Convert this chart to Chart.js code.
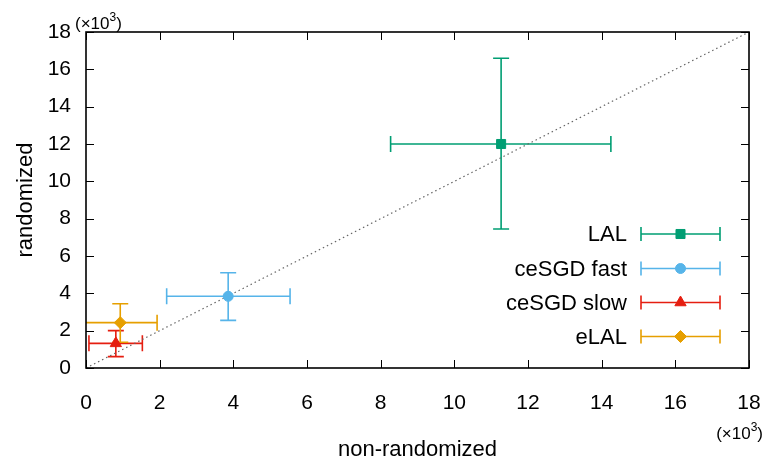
<!DOCTYPE html>
<html><head><meta charset="utf-8">
<script src="https://cdn.jsdelivr.net/npm/chart.js@4"></script>
<style>html,body{margin:0;padding:0;background:#fff}#wrap{width:766px;height:464px}</style>
</head><body><div id="wrap"><canvas id="c" width="766" height="464"></canvas></div>
<script>
// values in thousands (axis shows ×10^3)
const seriesNames = ['LAL', 'ceSGD fast', 'ceSGD slow', 'eLAL'];
const xVals  = [11.27, 3.86, 0.81, 0.93];
const yVals  = [12.00, 3.84, 1.32, 2.43];
const xLow   = [8.27, 2.19, 0.08, -0.05];
const xHigh  = [14.25, 5.54, 1.53, 1.93];
const yLow   = [7.45, 2.55, 0.61, 1.38];
const yHigh  = [16.59, 5.10, 2.00, 3.44];
const tickValues = [0, 2, 4, 6, 8, 10, 12, 14, 16, 18];
const diagonal = [{x: 0, y: 0}, {x: 18, y: 18}];

const colors = ['#009e73', '#56b4e9', '#e51e10', '#e69f00'];
const styles = ['rect', 'circle', 'triangle', 'rectRot'];
const radii = [6.4, 5, 6.5, 6];
const FONT = "'Liberation Sans', Arial, sans-serif";
const TICK_SIZE = 21, LABEL_SIZE = 22;

function drawMarker(ctx, style, r, x, y, color) {
  ctx.save();
  ctx.fillStyle = color; ctx.strokeStyle = color; ctx.lineWidth = 1;
  ctx.beginPath();
  if (style === 'rect') { const s = r * Math.SQRT1_2; ctx.rect(x - s, y - s, 2 * s, 2 * s); }
  else if (style === 'circle') { ctx.arc(x, y, r, 0, Math.PI * 2); }
  else if (style === 'triangle') {
    ctx.moveTo(x, y - r);
    ctx.lineTo(x + r * Math.sin(Math.PI * 2 / 3), y - r * Math.cos(Math.PI * 2 / 3));
    ctx.lineTo(x + r * Math.sin(Math.PI * 4 / 3), y - r * Math.cos(Math.PI * 4 / 3));
    ctx.closePath();
  } else { ctx.moveTo(x, y - r); ctx.lineTo(x + r, y); ctx.lineTo(x, y + r); ctx.lineTo(x - r, y); ctx.closePath(); }
  ctx.fill(); ctx.stroke();
  ctx.restore();
}

const errorBars = {
  id: 'errorBars',
  beforeDatasetsDraw(chart) {
    const {ctx, chartArea: a, scales: {x, y}} = chart;
    ctx.save();
    ctx.beginPath(); ctx.rect(a.left, a.top, a.right - a.left, a.bottom - a.top); ctx.clip();
    ctx.lineWidth = 1.6;
    const cap = 8;
    for (let i = 0; i < seriesNames.length; i++) {
      ctx.strokeStyle = colors[i];
      const px = x.getPixelForValue(xVals[i]), py = y.getPixelForValue(yVals[i]);
      const xl = x.getPixelForValue(xLow[i]), xh = x.getPixelForValue(xHigh[i]);
      const yl = y.getPixelForValue(yLow[i]), yh = y.getPixelForValue(yHigh[i]);
      ctx.beginPath();
      ctx.moveTo(xl, py); ctx.lineTo(xh, py);
      ctx.moveTo(xl, py - cap); ctx.lineTo(xl, py + cap);
      ctx.moveTo(xh, py - cap); ctx.lineTo(xh, py + cap);
      ctx.moveTo(px, yl); ctx.lineTo(px, yh);
      ctx.moveTo(px - cap, yl); ctx.lineTo(px + cap, yl);
      ctx.moveTo(px - cap, yh); ctx.lineTo(px + cap, yh);
      ctx.stroke();
    }
    ctx.restore();
  }
};

function drawTimes(ctx, xRight, yBase, alignRight, xLeft) {
  ctx.save();
  ctx.fillStyle = '#000';
  ctx.textBaseline = 'alphabetic'; ctx.textAlign = 'left';
  const a = '(×10', b = '3', c = ')';
  ctx.font = '17px ' + FONT; const wa = ctx.measureText(a).width, wc = ctx.measureText(c).width;
  ctx.font = '12px ' + FONT; const wb = ctx.measureText(b).width;
  const total = wa + wb + wc;
  let sx = alignRight ? xRight - total : xLeft;
  ctx.font = '17px ' + FONT; ctx.fillText(a, sx, yBase);
  ctx.font = '12px ' + FONT; ctx.fillText(b, sx + wa, yBase - 8);
  ctx.font = '17px ' + FONT; ctx.fillText(c, sx + wa + wb, yBase);
  ctx.restore();
}

const frame = {
  id: 'frame',
  afterDraw(chart) {
    const {ctx, chartArea: a, scales: {x, y}} = chart;
    ctx.save();
    ctx.strokeStyle = '#000'; ctx.lineWidth = 1;
    const tl = 8;
    ctx.beginPath();
    tickValues.forEach(v => {
      const px = Math.round(x.getPixelForValue(v)) + 0.5;
      ctx.moveTo(px, a.bottom); ctx.lineTo(px, a.bottom - tl);
      ctx.moveTo(px, a.top); ctx.lineTo(px, a.top + tl);
      const py = Math.round(y.getPixelForValue(v)) + 0.5;
      ctx.moveTo(a.left, py); ctx.lineTo(a.left + tl, py);
      ctx.moveTo(a.right, py); ctx.lineTo(a.right - tl, py);
    });
    ctx.stroke();
    ctx.lineWidth = 1.6;
    ctx.strokeRect(a.left, a.top, a.right - a.left, a.bottom - a.top);

    ctx.fillStyle = '#000';
    ctx.font = LABEL_SIZE + 'px ' + FONT;
    ctx.textAlign = 'center'; ctx.textBaseline = 'middle';
    ctx.fillText('non-randomized', (a.left + a.right) / 2, 450);
    ctx.save();
    ctx.translate(26, (a.top + a.bottom) / 2);
    ctx.rotate(-Math.PI / 2);
    ctx.fillText('randomized', 0, 0);
    ctx.restore();

    drawTimes(ctx, 0, 29, false, 75);
    drawTimes(ctx, 763, 439, true, 0);

    const rows = [234, 268.5, 302.5, 336.5];
    ctx.font = LABEL_SIZE + 'px ' + FONT;
    ctx.textAlign = 'right'; ctx.textBaseline = 'middle';
    for (let i = 0; i < seriesNames.length; i++) {
      const ry = rows[i];
      ctx.fillStyle = '#000';
      ctx.fillText(seriesNames[i], 627, ry + 1);
      ctx.strokeStyle = colors[i]; ctx.lineWidth = 1.6;
      ctx.beginPath();
      ctx.moveTo(641, ry); ctx.lineTo(720, ry);
      ctx.moveTo(641, ry - 7); ctx.lineTo(641, ry + 7);
      ctx.moveTo(720, ry - 7); ctx.lineTo(720, ry + 7);
      ctx.stroke();
      drawMarker(ctx, styles[i], radii[i], 680.5, ry, colors[i]);
    }
    ctx.restore();
  }
};

const datasets = [{
  type: 'line', data: diagonal, borderColor: '#666', borderWidth: 1.2,
  borderDash: [1.5, 3], pointRadius: 0, fill: false, order: 10
}];
seriesNames.forEach((n, i) => {
  datasets.push({
    label: n, data: [{x: xVals[i], y: yVals[i]}],
    pointStyle: styles[i], pointRadius: radii[i],
    backgroundColor: colors[i], borderColor: colors[i], borderWidth: 1, order: 1
  });
});

new Chart(document.getElementById('c'), {
  type: 'scatter',
  data: {datasets},
  options: {
    responsive: false, animation: false, events: [],
    layout: {padding: {top: 32, right: 17, left: 0, bottom: 0}},
    plugins: {legend: {display: false}, tooltip: {enabled: false}, title: {display: false}},
    scales: {
      x: {
        type: 'linear', min: 0, max: 18,
        afterFit(s) { s.height = 96; s.paddingRight = 0; s.paddingLeft = 0; },
        afterBuildTicks(s) { s.ticks = tickValues.map(v => ({value: v})); },
        grid: {display: false, drawTicks: false},
        border: {display: false},
        ticks: {color: '#000', font: {family: FONT, size: TICK_SIZE}, padding: 23, maxRotation: 0}
      },
      y: {
        type: 'linear', min: 0, max: 18,
        afterFit(s) { s.width = 86; s.paddingTop = 0; s.paddingBottom = 0; },
        afterBuildTicks(s) { s.ticks = tickValues.map(v => ({value: v})); },
        grid: {display: false, drawTicks: false},
        border: {display: false},
        ticks: {color: '#000', font: {family: FONT, size: TICK_SIZE}, padding: 15}
      }
    }
  },
  plugins: [errorBars, frame]
});
</script></body></html>
